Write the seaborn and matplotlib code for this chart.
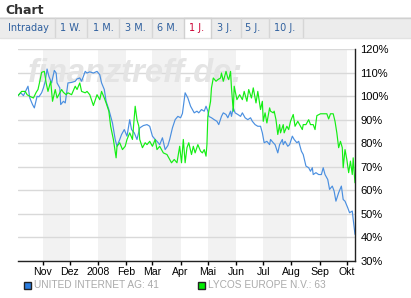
import matplotlib
matplotlib.use('Agg')
import matplotlib.pyplot as plt
from matplotlib.patches import Rectangle
from matplotlib.lines import Line2D
import seaborn as sns
import pandas as pd

# ---------------- data ----------------
start_date = "2007-10-05"

series_names = ["UNITED INTERNET AG", "LYCOS EUROPE N.V."]
last_values = [41, 63]

ui_days = [0, 3, 6, 11, 13, 16, 18, 21, 23, 26,
           28, 30, 32, 34, 37, 40, 42, 43, 46, 47,
           50, 52, 55, 59, 63, 65, 68, 70, 74, 76,
           79, 83, 87, 90, 92, 95, 97, 100, 102, 104,
           107, 109, 112, 114, 117, 120, 123, 125, 128, 131,
           134, 136, 138, 142, 145, 148, 151, 153, 156, 159,
           162, 165, 167, 170, 173, 176, 179, 181, 184, 187,
           190, 192, 194, 197, 199, 202, 205, 207, 209, 210,
           213, 216, 219, 221, 224, 226, 229, 231, 234, 235,
           237, 239, 242, 245, 247, 250, 253, 256, 258, 261,
           264, 267, 269, 271, 274, 277, 278, 281, 283, 286,
           288, 291, 292, 294, 297, 299, 302, 304, 307, 309,
           312, 314, 317, 320, 322, 324, 325, 328, 331, 334,
           336, 338, 341, 343, 346, 348, 350, 353, 356, 358,
           360, 363, 365, 368, 369, 371]
ui_vals = [100.2, 101.4, 100.2, 104.2, 99.2, 96.4, 95.0, 99.9, 99.7, 101.4,
           103.5, 106.3, 111.5, 108.4, 105.6, 110.9, 109.8, 105.6, 103.5, 96.4,
           97.8, 97.1, 105.6, 105.8, 106.3, 107.3, 107.7, 106.3, 110.5, 109.8,
           110.3, 109.8, 110.5, 109.1, 105.6, 102.8, 97.8, 94.3, 91.4, 88.6,
           81.6, 78.7, 81.6, 83.7, 85.8, 83.0, 90.0, 85.8, 84.4, 81.6,
           86.5, 87.0, 87.5, 87.9, 87.2, 83.0, 81.6, 80.8, 79.4, 82.3,
           77.3, 79.0, 81.6, 86.5, 90.0, 91.4, 90.8, 92.6, 101.4, 99.2,
           95.7, 94.3, 92.9, 93.6, 92.9, 94.3, 93.6, 95.7, 93.6, 91.4,
           90.8, 90.0, 89.3, 87.9, 91.4, 92.9, 92.2, 90.8, 93.6, 91.4,
           95.0, 92.9, 92.2, 91.4, 92.9, 90.8, 90.0, 90.8, 89.3, 87.9,
           87.2, 87.2, 84.4, 80.2, 80.8, 79.4, 81.6, 80.2, 79.4, 75.9,
           79.4, 81.6, 79.4, 80.8, 78.7, 79.4, 83.0, 81.6, 80.2, 80.8,
           76.6, 75.2, 70.3, 69.6, 68.1, 69.6, 66.7, 67.5, 66.7, 66.7,
           69.6, 66.7, 64.6, 60.4, 61.8, 59.7, 55.4, 59.0, 61.8, 56.1,
           55.4, 52.6, 50.5, 51.2, 47.7, 41.3]

ly_days = [0, 4, 8, 10, 13, 17, 20, 22, 24, 26,
           29, 31, 33, 36, 38, 41, 43, 46, 48, 50,
           53, 55, 59, 63, 65, 68, 70, 74, 76, 79,
           83, 87, 90, 92, 95, 97, 100, 102, 105, 108,
           109, 112, 115, 118, 120, 123, 126, 129, 131, 133,
           134, 137, 140, 142, 145, 148, 151, 153, 156, 160,
           164, 167, 169, 172, 175, 178, 180, 182, 184, 186,
           188, 191, 193, 195, 198, 201, 203, 205, 207, 208,
           209, 212, 213, 215, 218, 220, 223, 224, 226, 229,
           231, 232, 234, 235, 237, 238, 241, 244, 247, 249,
           252, 254, 257, 259, 262, 264, 267, 269, 270, 272,
           274, 277, 278, 281, 282, 284, 286, 288, 289, 292,
           293, 296, 298, 300, 303, 305, 308, 310, 313, 314,
           317, 320, 322, 325, 327, 329, 333, 336, 340, 342,
           344, 347, 349, 351, 353, 355, 357, 358, 360, 362,
           364, 366, 368, 369, 370, 371]
ly_vals = [100.2, 102.0, 102.0, 100.6, 99.9, 99.2, 101.6, 102.8, 106.3, 110.1,
           110.5, 105.6, 102.0, 106.3, 97.8, 102.8, 99.2, 101.4, 102.8, 101.6,
           100.6, 101.4, 100.6, 104.2, 102.8, 105.6, 102.0, 101.4, 102.0, 100.6,
           96.0, 100.6, 98.5, 102.0, 99.2, 97.1, 93.6, 87.2, 81.6, 73.8,
           78.7, 80.2, 77.3, 78.7, 81.6, 84.4, 81.6, 95.7, 90.0, 87.2,
           81.6, 78.1, 80.2, 79.4, 80.8, 78.7, 81.6, 77.3, 78.7, 75.9,
           75.2, 73.1, 71.7, 73.1, 71.7, 78.7, 71.7, 81.6, 71.7, 78.1,
           80.2, 75.2, 78.7, 75.9, 79.4, 76.6, 75.9, 77.3, 74.5, 79.4,
           91.4, 97.8, 103.5, 107.7, 106.3, 107.0, 107.7, 109.8, 106.3, 110.5,
           107.7, 107.0, 110.5, 103.5, 93.6, 104.2, 98.5, 100.6, 98.5, 102.0,
           97.8, 102.8, 99.2, 103.5, 97.1, 102.0, 94.3, 97.8, 89.3, 92.9,
           88.6, 95.0, 93.6, 92.9, 93.6, 90.0, 83.7, 87.9, 84.4, 87.9,
           84.4, 87.2, 85.8, 89.3, 92.2, 87.2, 89.3, 87.9, 85.8, 87.9,
           87.9, 90.0, 87.9, 87.9, 85.8, 91.7, 92.5, 92.5, 92.5, 90.3,
           92.5, 92.5, 89.3, 84.4, 78.1, 80.8, 78.1, 69.6, 77.3, 73.1,
           67.5, 72.4, 66.7, 73.8, 68.1, 63.2]

month_labels = ["Nov", "Dez", "2008", "Feb", "Mar", "Apr", "Mai", "Jun",
                "Jul", "Aug", "Sep", "Okt"]
y_ticks = [30, 40, 50, 60, 70, 80, 90, 100, 110, 120]
tab_labels = ["Intraday", "1 W.", "1 M.", "3 M.", "6 M.", "1 J.", "3 J.", "5 J.", "10 J."]
selected_tab = "1 J."

# ---------------- build frame ----------------
start = pd.Timestamp(start_date)
df = pd.concat([
    pd.DataFrame({"series": series_names[0],
                  "date": start + pd.to_timedelta(ui_days, unit="D"),
                  "value": ui_vals}),
    pd.DataFrame({"series": series_names[1],
                  "date": start + pd.to_timedelta(ly_days, unit="D"),
                  "value": ly_vals}),
], ignore_index=True)

sns.set_style("white")
plt.rcParams["font.family"] = ["Liberation Sans", "DejaVu Sans"]

W, H = 411, 298
fig = plt.figure(figsize=(W / 100, H / 100), dpi=100)
fig.patch.set_facecolor("white")


def fx(x):
    return x / W


def fy(y):
    return 1 - y / H


ax = fig.add_axes([fx(18), fy(261), (355 - 18) / W, (261 - 49) / H])
ax.set_facecolor("white")

# alternating month bands
month_starts = pd.date_range("2007-11-01", "2008-10-01", freq="MS")
for i in range(0, len(month_starts) - 1, 2):
    ax.axvspan(month_starts[i], month_starts[i + 1], color="#f2f2f2", lw=0, zorder=0)

ax.set_axisbelow(True)
ax.grid(axis="y", color="#d9d9d9", lw=1)
ax.grid(axis="x", visible=False)

# watermark
ax.text(fx(28), fy(82), "finanztreff.de:", transform=fig.transFigure,
        fontsize=23.5, fontweight="bold", fontstyle="italic",
        family="Liberation Sans", color="#e4e4e4", va="baseline", zorder=1)

colors = {series_names[0]: "#4a8fe0", series_names[1]: "#14ee14"}
sns.lineplot(data=df, x="date", y="value", hue="series",
             hue_order=series_names, palette=colors,
             estimator=None, sort=False, legend=False,
             linewidth=0.85, ax=ax)

ax.set_xlim(start, start + pd.Timedelta(days=371))
ax.set_ylim(30, 120)
ax.set_xlabel("")
ax.set_ylabel("")

ax.set_xticks(month_starts)
ax.set_xticklabels(month_labels)
ax.tick_params(axis="x", direction="out", length=3, width=1, color="black",
               pad=1.5, labelsize=7.6, labelcolor="black", bottom=True)

ax.yaxis.tick_right()
ax.set_yticks(y_ticks)
ax.set_yticklabels([f"{v}%" for v in y_ticks])
ax.tick_params(axis="y", length=0, pad=4, labelsize=8, labelcolor="black")

for s in ["top", "left"]:
    ax.spines[s].set_visible(False)
for s in ["right", "bottom"]:
    ax.spines[s].set_visible(True)
    ax.spines[s].set_color("#222222")
    ax.spines[s].set_linewidth(1)

# ---------------- header ----------------
fig.text(fx(5), fy(14), "Chart", fontsize=9, fontweight="bold",
         family="DejaVu Sans", color="#333333", va="baseline")

# tab bar
fig.add_artist(Rectangle((0, fy(37.5)), 1, 20.5 / H, transform=fig.transFigure,
                         facecolor="#ececec", edgecolor="none"))
fig.add_artist(Line2D([0, 1], [fy(17.5), fy(17.5)], transform=fig.transFigure,
                      color="#d0d0d0", lw=1))
fig.add_artist(Line2D([0, 1], [fy(37.5), fy(37.5)], transform=fig.transFigure,
                      color="#e2e2e2", lw=1))
# selected tab
fig.add_artist(Rectangle((fx(183.5), fy(38.5)), 27.5 / W, 21 / H,
                         transform=fig.transFigure, facecolor="white",
                         edgecolor="none"))
for xs in [183.5, 211]:
    fig.add_artist(Line2D([fx(xs), fx(xs)], [fy(17.5), fy(38)],
                          transform=fig.transFigure, color="#d0d0d0", lw=1))
fig.add_artist(Line2D([fx(183.5), fx(211)], [fy(17.5), fy(17.5)],
                      transform=fig.transFigure, color="#d0d0d0", lw=1))
for xs in [54.5, 86.5, 118.5, 151.5, 240.5, 268.5, 302.5]:
    fig.add_artist(Line2D([fx(xs), fx(xs)], [fy(18), fy(37)],
                          transform=fig.transFigure, color="#d6d6d6", lw=1))

tab_centers = [28, 70, 103, 135, 167, 197, 225, 253, 285]
for lab, cx in zip(tab_labels, tab_centers):
    col = "#cc0033" if lab == selected_tab else "#2e5f9e"
    fig.text(fx(cx), fy(28), lab, ha="center", va="center", fontsize=7,
             family="DejaVu Sans", color=col)

# ---------------- legend ----------------
legend_x = [(23.5, 34), (197.5, 208)]
legend_fc = ["#2a7de0", "#00ee00"]
for (sx, tx), fc, name, val in zip(legend_x, legend_fc, series_names, last_values):
    fig.add_artist(Rectangle((fx(sx), fy(289)), 7 / W, 7 / H,
                             transform=fig.transFigure, facecolor=fc,
                             edgecolor="#222222", lw=1))
    fig.text(fx(tx), fy(285.5), f"{name}: {val}", va="center", fontsize=7.3,
             color="#aaaaaa")

fig.savefig("out.png", dpi=100)
